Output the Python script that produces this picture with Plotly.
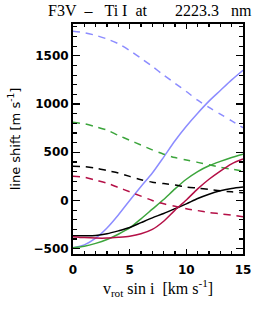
import plotly.graph_objects as go

x = list(range(16))

blue_dash = [1755, 1740, 1712, 1675, 1625, 1555, 1475, 1390, 1300, 1215, 1130, 1040, 965, 895, 825, 755]
blue_solid = [-490, -460, -390, -285, -150, 0, 145, 285, 450, 620, 770, 905, 1030, 1140, 1250, 1350]
green_dash = [810, 795, 765, 730, 675, 625, 575, 525, 480, 445, 420, 395, 370, 345, 325, 305]
green_solid = [-490, -475, -445, -405, -350, -285, -190, -90, 10, 120, 220, 300, 360, 405, 445, 480]
black_dash = [355, 350, 335, 310, 285, 250, 215, 190, 175, 160, 140, 128, 115, 100, 90, 80]
black_solid = [-365, -365, -362, -345, -315, -280, -230, -180, -135, -85, -35, 20, 65, 100, 125, 140]
red_dash = [250, 240, 210, 180, 135, 90, 45, 0, -35, -60, -85, -105, -125, -138, -152, -168]
red_solid = [-375, -385, -390, -390, -382, -370, -345, -300, -215, -100, 5, 120, 220, 305, 380, 430]

x_ticks = [0, 5, 10, 15]
x_ticklabels = ["0", "5", "10", "15"]
y_ticks = [-500, 0, 500, 1000, 1500]
y_ticklabels = ["\u2212500", "0", "500", "1000", "1500"]

BLUE = "rgb(140,140,255)"
GREEN = "rgb(60,165,60)"
BLACK = "rgb(0,0,0)"
RED = "rgb(180,15,70)"
DASH = "7px,6px"

series = [
    (blue_dash, BLUE, DASH),
    (blue_solid, BLUE, "solid"),
    (green_dash, GREEN, DASH),
    (green_solid, GREEN, "solid"),
    (black_dash, BLACK, DASH),
    (black_solid, BLACK, "solid"),
    (red_dash, RED, DASH),
    (red_solid, RED, "solid"),
]

fig = go.Figure()
for ys, col, dash in series:
    fig.add_trace(go.Scatter(x=x, y=ys, mode="lines",
                             line=dict(color=col, width=1.5, dash=dash, shape="spline", smoothing=0.8),
                             showlegend=False, hoverinfo="skip"))

tickfont = dict(family="DejaVu Sans", size=12, color="black", weight="bold")
fig.update_xaxes(range=[0, 15], tickvals=x_ticks, ticktext=x_ticklabels,
                 ticks="inside", ticklen=5, tickwidth=1.3, tickcolor="black",
                 minor=dict(ticks="inside", ticklen=3, dtick=1, tickcolor="black", tickwidth=1.2),
                 showline=True, linecolor="black", linewidth=2, mirror="ticks",
                 showgrid=False, zeroline=False, tickfont=tickfont, ticklabelstandoff=4,
                 ticklabeloverflow="allow",
                 title=dict(text="v<sub>rot</sub> sin i\u00a0\u00a0[km s<sup>-1</sup>]",
                            font=dict(family="Liberation Serif", size=16, color="black"), standoff=3))
fig.update_yaxes(range=[-555, 1830], tickvals=y_ticks, ticktext=y_ticklabels,
                 ticks="inside", ticklen=7, tickwidth=1.3, tickcolor="black",
                 minor=dict(ticks="inside", ticklen=4, dtick=100, tickcolor="black", tickwidth=1.2),
                 showline=True, linecolor="black", linewidth=2, mirror="ticks",
                 showgrid=False, zeroline=False, tickfont=tickfont,
                 title=dict(text="line shift [m s<sup>-1</sup>]",
                            font=dict(family="DejaVu Sans", size=13, color="black"), standoff=10))

fig.add_annotation(text="F3V\u00a0\u00a0\u2013\u00a0\u00a0\u00a0Ti\u00a0I\u00a0\u00a0at"
                        "\u00a0\u00a0\u00a0\u00a0\u00a0\u00a0\u00a02223.3\u00a0\u00a0\u00a0nm",
                   xref="paper", yref="paper", x=(45 - 73) / 178, y=1, yshift=3,
                   xanchor="left", yanchor="bottom", showarrow=False,
                   font=dict(family="Liberation Serif", size=16, color="black"))

fig.update_layout(width=256, height=310, margin=dict(l=73, r=5, t=24, b=56),
                  paper_bgcolor="white", plot_bgcolor="white")
fig.write_html("out.html", config={"staticPlot": True, "displayModeBar": False},
               post_script="document.body.style.margin='0';document.body.style.overflow='hidden';")
